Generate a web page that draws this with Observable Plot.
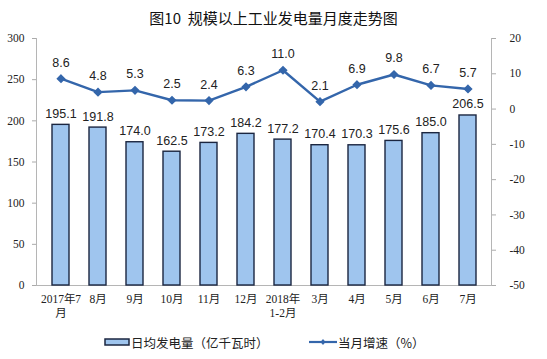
<!DOCTYPE html>
<html><head><meta charset="utf-8">
<script src="https://cdn.jsdelivr.net/npm/d3@7"></script>
<script src="https://cdn.jsdelivr.net/npm/@observablehq/plot@0.6"></script>
<style>
body{margin:0;background:#fff;width:547px;height:359px;overflow:hidden;font-family:"Noto Sans CJK SC",sans-serif;}
#title{box-sizing:border-box;height:30px;padding-top:8px;line-height:20px;text-align:center;font-size:15px;color:#111;font-weight:normal;}
#legend{position:absolute;top:332px;left:0;width:547px;height:20px;font-size:12.5px;color:#222;}
.item{position:absolute;top:0;display:flex;align-items:center;height:20px;}
</style></head>
<body>
<div id="title">图10&nbsp;&nbsp;规模以上工业发电量月度走势图</div>
<div id="chart"></div>
<div id="legend">
  <div class="item" style="left:104px"><svg width="26" height="10"><rect x="1" y="2" width="24" height="6" fill="#9fc5ee" stroke="#1b2640" stroke-width="1.5"/></svg><span style="margin-left:1px">日均发电量（亿千瓦时）</span></div>
  <div class="item" style="left:309px"><svg width="28" height="10"><line x1="0" y1="5" x2="28" y2="5" stroke="#3466ab" stroke-width="2.2"/><path d="M14 2 L16.5 5 L14 8 L11.5 5Z" fill="#3466ab"/></svg><span style="margin-left:1px">当月增速（%）</span></div>
</div>
<script>
const categories = ["2017年7\n月","8月","9月","10月","11月","12月","2018年\n1-2月","3月","4月","5月","6月","7月"];
const generation = [195.1,191.8,174.0,162.5,173.2,184.2,177.2,170.4,170.3,175.6,185.0,206.5];
const growth = [8.6,4.8,5.3,2.5,2.4,6.3,11.0,2.1,6.9,9.8,6.7,5.7];
const leftTicks = [0,50,100,150,200,250,300];
const rightTicks = [-50,-40,-30,-20,-10,0,10,20];

const data = categories.map((c,i)=>({cat:c, gen:generation[i], g:growth[i]}));
const toLeft = v => (v + 50) * 300 / 70;
const fromLeft = d => Math.round(d * 70 / 300 - 50);

const lineColor = "#3466ab";
const numFont = "Liberation Serif, Noto Sans CJK SC, serif";
const labFont = "Liberation Sans, Arial, sans-serif";

const chart = Plot.plot({
  width: 547,
  height: 290,
  marginTop: 8,
  marginBottom: 35,
  marginLeft: 36,
  marginRight: 56,
  style: {fontFamily: numFont, fontSize: "11px", color: "#222", background: "#fff"},
  x: {domain: categories, paddingInner: 0.55, paddingOuter: 0.33},
  y: {domain: [0, 300]},
  marks: [
    Plot.axisY(leftTicks, {anchor: "left", tickSize: 4, tickPadding: 8, stroke: "#aaa", fontSize: 11.5, fontFamily: numFont, fill: "#222", label: null}),
    Plot.axisY(rightTicks.map(toLeft), {anchor: "right", tickSize: 4, tickPadding: 14, tickFormat: fromLeft, stroke: "#aaa", fontSize: 11.5, fontFamily: numFont, fill: "#222", label: null, textAnchor: "start"}),
    Plot.axisX({tickSize: 0, tickPadding: 7, fontSize: 11.5, fontFamily: numFont, fill: "#222", label: null, lineHeight: 1.25}),
    Plot.frame({anchor: "left", stroke: "#b5b5b5"}),
    Plot.frame({anchor: "right", stroke: "#b5b5b5"}),
    Plot.frame({anchor: "bottom", stroke: "#b5b5b5"}),
    Plot.barY(data, {x: "cat", y: "gen", fill: "#9fc5ee", stroke: "#1b2640", strokeWidth: 1.4}),
    Plot.text(data, {x: "cat", y: "gen", text: d => d.gen.toFixed(1), dy: -11, fontSize: 12.5, fontFamily: labFont, fill: "#222"}),
    Plot.line(data, {x: "cat", y: d => toLeft(d.g), stroke: lineColor, strokeWidth: 2.4}),
    Plot.dot(data, {x: "cat", y: d => toLeft(d.g), symbol: "diamond2", r: 3.2, fill: lineColor, stroke: lineColor}),
    Plot.text(data, {x: "cat", y: d => toLeft(d.g), text: d => d.g.toFixed(1), dy: -16, fontSize: 12.5, fontFamily: labFont, fill: "#222"})
  ]
});
document.getElementById("chart").appendChild(chart);
</script>
</body></html>
